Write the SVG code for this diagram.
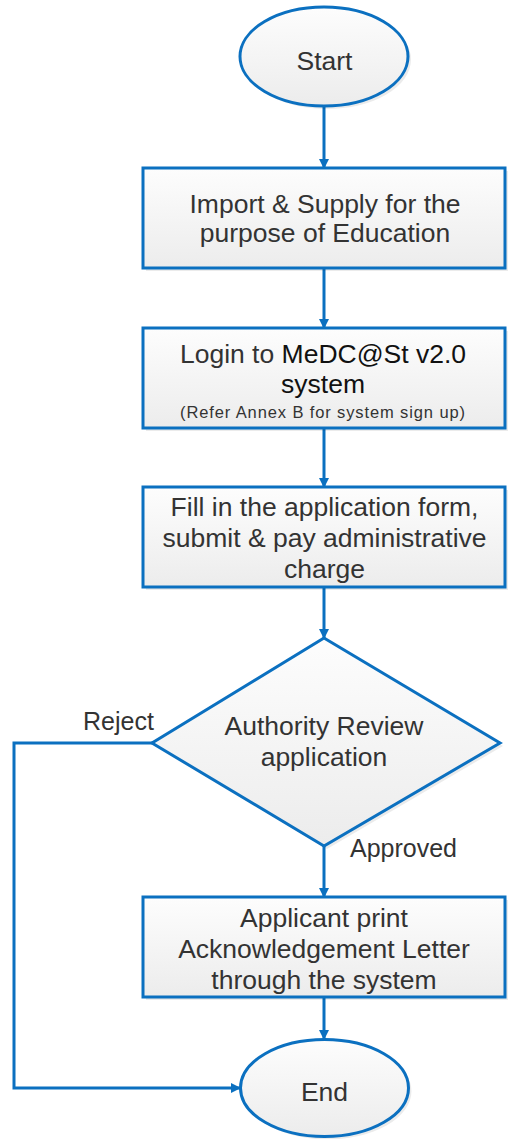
<svg xmlns="http://www.w3.org/2000/svg" width="508" height="1139" viewBox="0 0 508 1139">
<style>
.shape{stroke:#0B70C0;stroke-width:3;fill:url(#g)}
.shadow{fill:#000;opacity:0.08}
.t{font-family:"Liberation Sans",Arial,sans-serif;font-size:26.5px;fill:#333;text-anchor:middle}
.k{fill:#111}
.s{font-size:16.5px}
.lbl{font-family:"Liberation Sans",Arial,sans-serif;font-size:25px;fill:#333}
.c{stroke:#0B70C0;stroke-width:3;fill:none}
</style>
<defs>
<linearGradient id="g" x1="0" y1="0" x2="0" y2="1">
<stop offset="0" stop-color="#fdfdfd"/>
<stop offset="1" stop-color="#ececec"/>
</linearGradient>
<marker id="a" viewBox="0 0 10 10" refX="9" refY="5" markerWidth="3.4" markerHeight="3.4" orient="auto" markerUnits="strokeWidth">
<path d="M0,0 L10,5 L0,10 z" fill="#0B70C0"/>
</marker>
</defs>
<g id="connectors">
<line class="c" x1="324" y1="106" x2="324" y2="168" marker-end="url(#a)"/>
<line class="c" x1="324" y1="268" x2="324" y2="328" marker-end="url(#a)"/>
<line class="c" x1="324" y1="428" x2="324" y2="487" marker-end="url(#a)"/>
<line class="c" x1="324" y1="587" x2="324" y2="638" marker-end="url(#a)"/>
<line class="c" x1="324" y1="846" x2="324" y2="897" marker-end="url(#a)"/>
<line class="c" x1="324" y1="997" x2="324" y2="1039" marker-end="url(#a)"/>
<polyline class="c" points="152,743 14,743 14,1088 240,1088" marker-end="url(#a)"/>
<text class="lbl" x="83" y="730">Reject</text>
<text class="lbl" x="350" y="857">Approved</text>
</g>
<g id="start">
<ellipse class="shadow" cx="327" cy="59.5" rx="84" ry="49.5"/>
<ellipse class="shape" cx="324" cy="56.5" rx="84" ry="49.5"/>
<text class="t" x="324.5" y="70">Start</text>
</g>
<g id="import">
<rect class="shadow" x="146" y="171" width="362" height="100"/>
<rect class="shape" x="143" y="168" width="362" height="100"/>
<text class="t" x="325" y="213">Import &amp; Supply for the</text>
<text class="t" x="325" y="242">purpose of Education</text>
</g>
<g id="login">
<rect class="shadow" x="146" y="331" width="362" height="100"/>
<rect class="shape" x="143" y="328" width="362" height="100"/>
<text class="t" x="323" y="363">Login to <tspan class="k">MeDC@St v2.0</tspan></text>
<text class="t k" x="323" y="393">system</text>
<text class="t s" x="322.5" y="418" textLength="285" lengthAdjust="spacing">(Refer Annex B for system sign up)</text>
</g>
<g id="fill">
<rect class="shadow" x="146" y="490" width="362" height="100"/>
<rect class="shape" x="143" y="487" width="362" height="100"/>
<text class="t" x="324.5" y="516">Fill in the application form,</text>
<text class="t" x="324.5" y="547">submit &amp; pay administrative</text>
<text class="t" x="324.5" y="578">charge</text>
</g>
<g id="review">
<polygon class="shadow" points="327,641 503,746 327,849 155,746"/>
<polygon class="shape" points="324,638 500,743 324,846 152,743"/>
<text class="t" x="324" y="735">Authority Review</text>
<text class="t" x="324" y="766">application</text>
</g>
<g id="print">
<rect class="shadow" x="146" y="900" width="362" height="100"/>
<rect class="shape" x="143" y="897" width="362" height="100"/>
<text class="t" x="324" y="927">Applicant print</text>
<text class="t" x="324" y="958">Acknowledgement Letter</text>
<text class="t" x="324" y="989">through the system</text>
</g>
<g id="end">
<ellipse class="shadow" cx="327.5" cy="1091" rx="84" ry="48.5"/>
<ellipse class="shape" cx="324.5" cy="1088" rx="84" ry="48.5"/>
<text class="t" x="324.5" y="1101">End</text>
</g>
</svg>
